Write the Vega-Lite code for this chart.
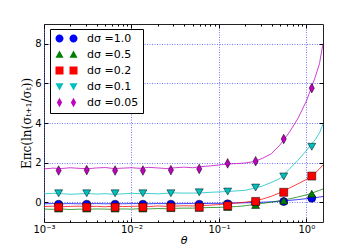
{
  "$schema": "https://vega.github.io/schema/vega-lite/v6.json",
  "width": 279,
  "height": 198,
  "autosize": {"type": "none"},
  "padding": {"left": 44, "top": 24, "right": 35, "bottom": 25},
  "config": {
    "font": "DejaVu Sans",
    "view": {"stroke": "#222", "strokeWidth": 1},
    "axis": {"labelFont": "DejaVu Sans", "titleFont": "DejaVu Sans", "labelColor": "#000", "titleColor": "#000", "tickColor": "#000", "domain": false, "titleFontWeight": "normal"}
  },
  "datasets": {
    "curves": [
      {"t": 0.001, "d10": -0.08, "d05": -0.35, "d02": -0.22, "d01": 0.42, "d005": 1.68},
      {"t": 0.001259, "d10": -0.07, "d05": -0.36, "d02": -0.2, "d01": 0.45, "d005": 1.72},
      {"t": 0.001585, "d10": -0.08, "d05": -0.34, "d02": -0.23, "d01": 0.43, "d005": 1.70},
      {"t": 0.001995, "d10": -0.07, "d05": -0.37, "d02": -0.21, "d01": 0.40, "d005": 1.74},
      {"t": 0.002512, "d10": -0.08, "d05": -0.35, "d02": -0.2, "d01": 0.42, "d005": 1.71},
      {"t": 0.003162, "d10": -0.08, "d05": -0.36, "d02": -0.22, "d01": 0.44, "d005": 1.69},
      {"t": 0.003981, "d10": -0.07, "d05": -0.34, "d02": -0.21, "d01": 0.41, "d005": 1.73},
      {"t": 0.005012, "d10": -0.08, "d05": -0.35, "d02": -0.23, "d01": 0.43, "d005": 1.75},
      {"t": 0.00631, "d10": -0.07, "d05": -0.36, "d02": -0.2, "d01": 0.40, "d005": 1.70},
      {"t": 0.007943, "d10": -0.08, "d05": -0.34, "d02": -0.22, "d01": 0.42, "d005": 1.72},
      {"t": 0.01, "d10": -0.07, "d05": -0.35, "d02": -0.21, "d01": 0.45, "d005": 1.74},
      {"t": 0.01259, "d10": -0.07, "d05": -0.33, "d02": -0.2, "d01": 0.43, "d005": 1.71},
      {"t": 0.01585, "d10": -0.08, "d05": -0.34, "d02": -0.22, "d01": 0.44, "d005": 1.76},
      {"t": 0.01995, "d10": -0.07, "d05": -0.32, "d02": -0.19, "d01": 0.42, "d005": 1.73},
      {"t": 0.02512, "d10": -0.07, "d05": -0.33, "d02": -0.21, "d01": 0.45, "d005": 1.70},
      {"t": 0.03162, "d10": -0.08, "d05": -0.31, "d02": -0.2, "d01": 0.47, "d005": 1.74},
      {"t": 0.03981, "d10": -0.07, "d05": -0.3, "d02": -0.18, "d01": 0.46, "d005": 1.77},
      {"t": 0.05012, "d10": -0.07, "d05": -0.3, "d02": -0.19, "d01": 0.46, "d005": 1.74},
      {"t": 0.0631, "d10": -0.07, "d05": -0.28, "d02": -0.17, "d01": 0.47, "d005": 1.8},
      {"t": 0.07943, "d10": -0.06, "d05": -0.27, "d02": -0.15, "d01": 0.5, "d005": 1.83},
      {"t": 0.1, "d10": -0.06, "d05": -0.26, "d02": -0.12, "d01": 0.52, "d005": 1.88},
      {"t": 0.1259, "d10": -0.05, "d05": -0.24, "d02": -0.08, "d01": 0.54, "d005": 1.93},
      {"t": 0.1585, "d10": -0.04, "d05": -0.22, "d02": -0.04, "d01": 0.57, "d005": 1.95},
      {"t": 0.1995, "d10": -0.03, "d05": -0.18, "d02": 0.0, "d01": 0.6, "d005": 1.98},
      {"t": 0.2512, "d10": -0.02, "d05": -0.12, "d02": 0.06, "d01": 0.7, "d005": 2.05},
      {"t": 0.3162, "d10": 0.0, "d05": -0.06, "d02": 0.16, "d01": 0.82, "d005": 2.22},
      {"t": 0.3981, "d10": 0.02, "d05": 0.0, "d02": 0.3, "d01": 1.0, "d005": 2.45},
      {"t": 0.5012, "d10": 0.05, "d05": 0.08, "d02": 0.48, "d01": 1.2, "d005": 2.9},
      {"t": 0.631, "d10": 0.09, "d05": 0.16, "d02": 0.7, "d01": 1.65, "d005": 3.5},
      {"t": 0.7943, "d10": 0.13, "d05": 0.26, "d02": 0.92, "d01": 2.1, "d005": 4.2},
      {"t": 1.0, "d10": 0.18, "d05": 0.37, "d02": 1.15, "d01": 2.6, "d005": 5.1},
      {"t": 1.122, "d10": 0.2, "d05": 0.44, "d02": 1.3, "d01": 2.9, "d005": 5.7},
      {"t": 1.259, "d10": 0.23, "d05": 0.52, "d02": 1.48, "d01": 3.15, "d005": 6.3},
      {"t": 1.413, "d10": 0.26, "d05": 0.6, "d02": 1.68, "d01": 3.5, "d005": 7.0},
      {"t": 1.549, "d10": 0.29, "d05": 0.67, "d02": 1.89, "d01": 3.95, "d005": 8.0}
    ],
    "markers": [
      {"t": 0.00147, "d10": -0.1, "d05": -0.32, "d02": -0.25, "d01": 0.45, "d005": 1.6},
      {"t": 0.00308, "d10": -0.1, "d05": -0.32, "d02": -0.25, "d01": 0.45, "d005": 1.62},
      {"t": 0.0065, "d10": -0.1, "d05": -0.32, "d02": -0.25, "d01": 0.45, "d005": 1.6},
      {"t": 0.01352, "d10": -0.1, "d05": -0.32, "d02": -0.25, "d01": 0.45, "d005": 1.6},
      {"t": 0.02825, "d10": -0.1, "d05": -0.3, "d02": -0.25, "d01": 0.45, "d005": 1.62},
      {"t": 0.0596, "d10": -0.1, "d05": -0.28, "d02": -0.25, "d01": 0.5, "d005": 1.68},
      {"t": 0.1259, "d10": -0.08, "d05": -0.24, "d02": -0.18, "d01": 0.54, "d005": 1.96},
      {"t": 0.263, "d10": -0.03, "d05": -0.14, "d02": 0.04, "d01": 0.74, "d005": 2.07},
      {"t": 0.551, "d10": 0.03, "d05": 0.08, "d02": 0.5, "d01": 1.3, "d005": 3.19},
      {"t": 1.153, "d10": 0.2, "d05": 0.43, "d02": 1.32, "d01": 2.8, "d005": 5.76}
    ],
    "series": [
      {"d": "d10"}, {"d": "d05"}, {"d": "d02"}, {"d": "d01"}, {"d": "d005"}
    ]
  },
  "resolve": {
    "scale": {"color": "independent", "shape": "independent"},
    "axis": {"x": "independent", "y": "independent"},
    "legend": {"color": "independent", "shape": "independent"}
  },
  "layer": [
    {
      "mark": {"type": "rule", "color": "#28c4f0", "strokeWidth": 2},
      "encoding": {"y": {"datum": 0, "type": "quantitative", "scale": {"domain": [-1, 9], "nice": false, "zero": false}, "axis": null}}
    },
    {
      "data": {"name": "curves"},
      "transform": [{"fold": ["d10", "d05", "d02", "d01", "d005"], "as": ["d", "v"]}],
      "mark": {"type": "line", "strokeWidth": 1, "opacity": 0.75},
      "encoding": {
        "x": {
          "field": "t", "type": "quantitative",
          "scale": {"type": "log", "domain": [0.001, 1.55], "nice": false},
          "axis": {
            "orient": "bottom",
            "values": [0.001, 0.002, 0.003, 0.004, 0.005, 0.006, 0.007, 0.008, 0.009, 0.01, 0.02, 0.03, 0.04, 0.05, 0.06, 0.07, 0.08, 0.09, 0.1, 0.2, 0.3, 0.4, 0.5, 0.6, 0.7, 0.8, 0.9, 1],
            "labelExpr": "datum.value == 0.001 ? '10⁻³' : datum.value == 0.01 ? '10⁻²' : datum.value == 0.1 ? '10⁻¹' : datum.value == 1 ? '10⁰' : ''",
            "labelOverlap": false, "labelFlush": false, "labelFontSize": 10, "labelPadding": 6,
            "tickSize": {"condition": {"test": "indexof([0.001, 0.01, 0.1, 1], datum.value) >= 0", "value": -4}, "value": -2},
            "grid": true,
            "gridColor": "#5555ff", "gridDash": [1, 1.5], "gridWidth": 1,
            "gridOpacity": {"condition": {"test": "indexof([0.001, 0.01, 0.1, 1], datum.value) >= 0", "value": 0.8}, "value": 0},
            "title": "θ", "titleFontSize": 11, "titleFontStyle": "italic", "titlePadding": -2
          }
        },
        "y": {
          "field": "v", "type": "quantitative",
          "scale": {"domain": [-1, 9], "nice": false, "zero": false},
          "axis": {
            "orient": "left", "values": [0, 2, 4, 6, 8], "tickSize": -4, "labelPadding": 7, "labelFontSize": 10,
            "grid": true, "gridColor": "#5555ff", "gridDash": [1, 1.5], "gridWidth": 1, "gridOpacity": 0.8,
            "title": "Eπc(ln(σₜ₊₁/σₜ))", "titleFont": "DejaVu Serif", "titleFontSize": 12, "titlePadding": 1
          }
        },
        "color": {
          "field": "d", "type": "nominal",
          "scale": {"domain": ["d10", "d05", "d02", "d01", "d005"], "range": ["#0000ff", "#008000", "#ff0000", "#00bfbf", "#bf00bf"]},
          "legend": null
        }
      }
    },
    {
      "data": {"name": "markers"},
      "transform": [{"fold": ["d10", "d05", "d02", "d01", "d005"], "as": ["d", "v"]}],
      "mark": {"type": "point", "filled": true, "opacity": 1, "stroke": "#000", "strokeWidth": 0.5, "size": 64},
      "encoding": {
        "x": {
          "field": "t", "type": "quantitative",
          "scale": {"type": "log", "domain": [0.001, 1.55], "nice": false},
          "axis": {
            "orient": "top",
            "values": [0.001, 0.002, 0.003, 0.004, 0.005, 0.006, 0.007, 0.008, 0.009, 0.01, 0.02, 0.03, 0.04, 0.05, 0.06, 0.07, 0.08, 0.09, 0.1, 0.2, 0.3, 0.4, 0.5, 0.6, 0.7, 0.8, 0.9, 1],
            "labels": false, "grid": false,
            "tickSize": {"condition": {"test": "indexof([0.001, 0.01, 0.1, 1], datum.value) >= 0", "value": -4}, "value": -2},
            "title": null
          }
        },
        "y": {
          "field": "v", "type": "quantitative",
          "scale": {"domain": [-1, 9], "nice": false, "zero": false},
          "axis": {"orient": "right", "values": [0, 2, 4, 6, 8], "tickSize": -4, "labels": false, "grid": false, "title": null}
        },
        "color": {
          "field": "d", "type": "nominal",
          "scale": {"domain": ["d10", "d05", "d02", "d01", "d005"], "range": ["#0000ff", "#008000", "#ff0000", "#00bfbf", "#bf00bf"]},
          "legend": null
        },
        "shape": {
          "field": "d", "type": "nominal",
          "scale": {"domain": ["d10", "d05", "d02", "d01", "d005"], "range": ["circle", "triangle-up", "square", "triangle-down", "M0,-1.2L0.65,0L0,1.2L-0.65,0Z"]},
          "legend": null
        }
      }
    },
    {
      "data": {"name": "series"},
      "mark": {"type": "point", "filled": true, "opacity": 0, "stroke": "#000", "strokeWidth": 0.5},
      "encoding": {
        "color": {
          "field": "d", "type": "nominal",
          "scale": {"domain": ["d10", "d05", "d02", "d01", "d005"], "range": ["#0000ff", "#008000", "#ff0000", "#00bfbf", "#bf00bf"]},
          "legend": {
            "orient": "none", "legendX": 6, "legendY": 5, "title": null,
            "labelExpr": "datum.value == 'd10' ? 'dσ =1.0' : datum.value == 'd05' ? 'dσ =0.5' : datum.value == 'd02' ? 'dσ =0.2' : datum.value == 'd01' ? 'dσ =0.1' : 'dσ =0.05'",
            "symbolSize": 64, "symbolOpacity": 1, "symbolStrokeColor": "#000", "symbolStrokeWidth": 0.5,
            "labelFontSize": 11, "labelColor": "#000", "labelOffset": 22, "rowPadding": 4, "padding": 4,
            "strokeColor": "#000", "fillColor": "#fff", "cornerRadius": 0
          }
        },
        "shape": {
          "field": "d", "type": "nominal",
          "scale": {"domain": ["d10", "d05", "d02", "d01", "d005"], "range": [
            "M-1,0A1,1 0 1,0 1,0A1,1 0 1,0 -1,0Z M2.5,0A1,1 0 1,0 4.5,0A1,1 0 1,0 2.5,0Z",
            "M0,-1L1,0.8L-1,0.8Z M3.5,-1L4.5,0.8L2.5,0.8Z",
            "M-1,-1H1V1H-1Z M2.5,-1H4.5V1H2.5Z",
            "M0,1L1,-0.8L-1,-0.8Z M3.5,1L4.5,-0.8L2.5,-0.8Z",
            "M0,-1.2L0.65,0L0,1.2L-0.65,0Z M3.5,-1.2L4.15,0L3.5,1.2L2.85,0Z"
          ]},
          "legend": {
            "orient": "none", "legendX": 6, "legendY": 5, "title": null,
            "labelExpr": "datum.value == 'd10' ? 'dσ =1.0' : datum.value == 'd05' ? 'dσ =0.5' : datum.value == 'd02' ? 'dσ =0.2' : datum.value == 'd01' ? 'dσ =0.1' : 'dσ =0.05'",
            "symbolSize": 64, "symbolOpacity": 1, "symbolStrokeColor": "#000", "symbolStrokeWidth": 0.5,
            "labelFontSize": 11, "labelColor": "#000", "labelOffset": 22, "rowPadding": 4, "padding": 4,
            "strokeColor": "#000", "fillColor": "#fff", "cornerRadius": 0
          }
        }
      }
    }
  ]
}
